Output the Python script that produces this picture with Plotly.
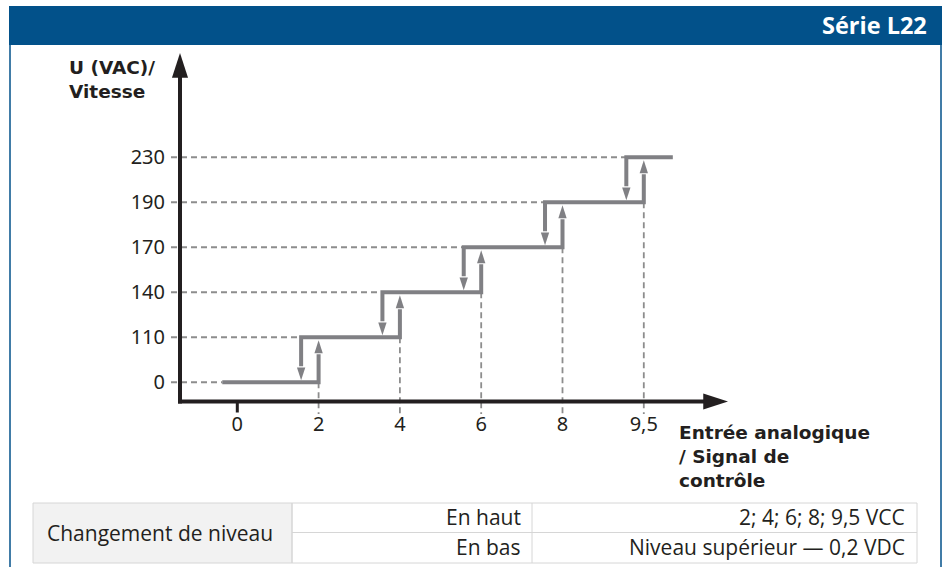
import plotly.graph_objects as go

# ---------------- data ----------------
x_labels = ['0', '2', '4', '6', '8', '9,5']          # analog input (V)
y_labels = ['0', '110', '140', '170', '190', '230']  # output U (VAC) / speed
up_thresholds = [2, 4, 6, 8, 9.5]
hysteresis = 0.2

table_title = 'Changement de niveau'
table_rows = ['En haut', 'En bas']
table_values = ['2; 4; 6; 8; 9,5 VCC', 'Niveau supérieur — 0,2 VDC']
header_text = 'Série L22'
y_title = 'U (VAC)/<br>Vitesse'
x_title = 'Entrée analogique<br>/ Signal de<br>contrôle'

# ---------------- geometry / style ----------------
W, H = 946, 567
L, R, T, B = 171, 206, 50, 153
PW, PH = W - L - R, H - T - B
X_PX0, X_PX_STEP = 237.3, 81.3      # pixel of index 0, pixels per index
Y_PX0, Y_PX_STEP = 382.3, 45.0
xr = [(L - X_PX0) / X_PX_STEP, (W - R - X_PX0) / X_PX_STEP]
yr = [(Y_PX0 - (H - B)) / Y_PX_STEP, (Y_PX0 - T) / Y_PX_STEP]
dx = 1.0 / X_PX_STEP
dy = 1.0 / Y_PX_STEP

def fx(px):
    return (px - L) / PW

def fy(py):
    return (H - B - py) / PH

GRAY = '#808084'
DASH = '#8d8d8d'
BLACK = '#231f20'
BLUE = '#02518a'
TXT = '#231f20'

n = len(y_labels)
idx = list(range(n))
down_off = 0.215          # visual offset of the downward transition
start0 = -0.185
end_last = 5.357
axis_x = (180 - X_PX0) / X_PX_STEP
axis_y = (Y_PX0 - 401.5) / Y_PX_STEP
y_tip = (Y_PX0 - 53) / Y_PX_STEP
x_tip = (728 - X_PX0) / X_PX_STEP

fig = go.Figure()

# horizontal dashed guides
hx, hy = [], []
for j in idx:
    s = start0 if j == 0 else j - down_off
    hx += [xr[0], s, None]
    hy += [j, j, None]
fig.add_trace(go.Scatter(x=hx, y=hy, mode='lines',
                         line=dict(color=DASH, width=2, dash='6px,4px'),
                         hoverinfo='skip', showlegend=False))

# vertical dashed guides at thresholds
vx, vy = [], []
for k, _ in enumerate(up_thresholds):
    i = k + 1
    vx += [i, i, None]
    vy += [i - 1, yr[0], None]
fig.add_trace(go.Scatter(x=vx, y=vy, mode='lines',
                         line=dict(color=DASH, width=1.8, dash='6px,4px'),
                         hoverinfo='skip', showlegend=False))

# step path with hysteresis
sx, sy = [], []
for j in idx:
    if j == 0:
        sx += [start0]
        sy += [0]
    else:
        sx += [j - down_off, j - down_off]
        sy += [j - 1 + 16 * dy, j]
    if j < n - 1:
        sx += [j + 1, j + 1, None]
        sy += [j, j + 1 - 17 * dy, None]
    else:
        sx += [end_last, None]
        sy += [j, None]
fig.add_trace(go.Scatter(x=sx, y=sy, mode='lines',
                         line=dict(color=GRAY, width=4),
                         hoverinfo='skip', showlegend=False))

# arrow heads up / down
ups_x = [k + 1 for k in range(len(up_thresholds))]
ups_y = [k + 1 - 3 * dy for k in range(len(up_thresholds))]
dn_x = [k + 1 - down_off for k in range(len(up_thresholds))]
dn_y = [k + 2 * dy for k in range(len(up_thresholds))]
fig.add_trace(go.Scatter(x=ups_x, y=ups_y, mode='markers',
                         marker=dict(symbol='arrow', angle=0, size=13.5, color=GRAY,
                                     line=dict(width=0)),
                         hoverinfo='skip', showlegend=False, cliponaxis=False))
fig.add_trace(go.Scatter(x=dn_x, y=dn_y, mode='markers',
                         marker=dict(symbol='arrow', angle=180, size=13.5, color=GRAY,
                                     line=dict(width=0)),
                         hoverinfo='skip', showlegend=False, cliponaxis=False))

# black axes with arrows
fig.add_trace(go.Scatter(x=[axis_x, axis_x, None, axis_x - 2 * dx, x_tip - 20 * dx],
                         y=[axis_y - 2 * dy, y_tip - 20 * dy, None, axis_y, axis_y],
                         mode='lines', line=dict(color=BLACK, width=4),
                         hoverinfo='skip', showlegend=False))
fig.add_trace(go.Scatter(x=[axis_x, x_tip], y=[y_tip, axis_y], mode='markers',
                         marker=dict(symbol='arrow', angle=[0, 90], size=26, color=BLACK,
                                     line=dict(width=0)),
                         hoverinfo='skip', showlegend=False, cliponaxis=False))
# tick mark at 0
fig.add_trace(go.Scatter(x=[0, 0], y=[axis_y, axis_y - 11 * dy], mode='lines',
                         line=dict(color=BLACK, width=3),
                         hoverinfo='skip', showlegend=False))

shapes = []
# header band
shapes.append(dict(type='rect', xref='paper', yref='paper',
                   x0=fx(9), x1=fx(942), y0=fy(45), y1=fy(6),
                   fillcolor=BLUE, line=dict(width=0), layer='below'))
# side borders
for px in (10, 941):
    shapes.append(dict(type='line', xref='paper', yref='paper',
                       x0=fx(px), x1=fx(px), y0=fy(45), y1=fy(567),
                       line=dict(color=BLUE, width=1.5)))

# table
tx0, tx1, tx2, tx3 = 33, 292, 532, 917
ty0, ty1, ty2 = 503, 532.5, 563
BORDER = '#d6d6d6'
shapes.append(dict(type='rect', xref='paper', yref='paper',
                   x0=fx(tx0), x1=fx(tx1), y0=fy(ty2), y1=fy(ty0),
                   fillcolor='#f2f2f2', line=dict(color=BORDER, width=1)))
shapes.append(dict(type='rect', xref='paper', yref='paper',
                   x0=fx(tx1), x1=fx(tx3), y0=fy(ty2), y1=fy(ty0),
                   fillcolor='rgba(0,0,0,0)', line=dict(color=BORDER, width=1)))
shapes.append(dict(type='line', xref='paper', yref='paper',
                   x0=fx(tx1), x1=fx(tx3), y0=fy(ty1), y1=fy(ty1),
                   line=dict(color=BORDER, width=1)))
shapes.append(dict(type='line', xref='paper', yref='paper',
                   x0=fx(tx2), x1=fx(tx2), y0=fy(ty2), y1=fy(ty0),
                   line=dict(color=BORDER, width=1)))

annotations = []
annotations.append(dict(text=header_text, xref='paper', yref='paper',
                        x=fx(929), y=fy(25), xanchor='right', yanchor='middle',
                        showarrow=False,
                        font=dict(family='Open Sans', size=23.5, color='white', weight='bold')))
annotations.append(dict(text=y_title, xref='paper', yref='paper',
                        x=fx(67), y=fy(79.5), xanchor='left', yanchor='middle', align='left',
                        showarrow=False,
                        font=dict(family='DejaVu Sans', size=18.5, color=TXT, weight='bold')))
annotations.append(dict(text=x_title, xref='paper', yref='paper',
                        x=fx(677), y=fy(456), xanchor='left', yanchor='middle', align='left',
                        showarrow=False,
                        font=dict(family='DejaVu Sans', size=18.5, color=TXT, weight='bold')))
TFONT = dict(family='Open Sans', size=21, color=TXT)
annotations.append(dict(text=table_title, xref='paper', yref='paper',
                        x=fx((tx0 + tx1) / 2 - 3), y=fy((ty0 + ty2) / 2), xanchor='center',
                        yanchor='middle', showarrow=False, font=TFONT))
row_c = [(ty0 + ty1) / 2 - 1, (ty1 + ty2) / 2 - 1]
for r, (lab, val) in enumerate(zip(table_rows, table_values)):
    annotations.append(dict(text=lab, xref='paper', yref='paper',
                            x=fx(tx2 - 9), y=fy(row_c[r]), xanchor='right', yanchor='middle',
                            showarrow=False, font=TFONT))
    annotations.append(dict(text=val, xref='paper', yref='paper',
                            x=fx(tx3 - 10), y=fy(row_c[r]), xanchor='right', yanchor='middle',
                            showarrow=False, font=TFONT))

fig.update_layout(
    width=W, height=H,
    margin=dict(l=L, r=R, t=T, b=B, pad=0),
    paper_bgcolor='white', plot_bgcolor='white',
    shapes=shapes, annotations=annotations,
    xaxis=dict(range=xr, tickvals=idx, ticktext=x_labels, showgrid=False, zeroline=False,
               showline=False, ticks='', ticklabelstandoff=-4,
               tickfont=dict(family='Noto Sans', size=20, color=TXT), fixedrange=True),
    yaxis=dict(range=yr, tickvals=idx, ticktext=y_labels, showgrid=False, zeroline=False,
               showline=False, ticks='', ticklabelstandoff=5,
               tickfont=dict(family='Noto Sans', size=20, color=TXT), fixedrange=True),
)

fig.write_html('out.html', config={'displayModeBar': False},
               post_script="document.body.style.margin='0';")
